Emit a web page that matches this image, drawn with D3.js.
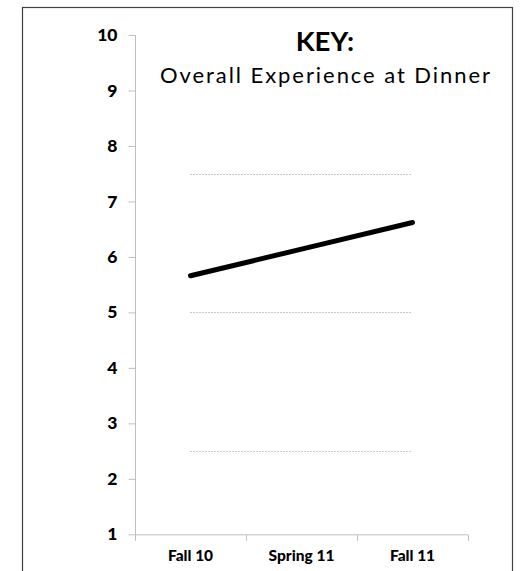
<!DOCTYPE html>
<html><head><meta charset="utf-8">
<script src="https://cdn.jsdelivr.net/npm/d3@7"></script>
<style>html,body{margin:0;padding:0;background:#fff}</style>
</head><body>
<svg id="c" width="522" height="571"></svg>
<script>
const categories = ["Fall 10", "Spring 11", "Fall 11"];
const values = [5.66, 6.14, 6.62];
const yTicks = [1, 2, 3, 4, 5, 6, 7, 8, 9, 10];
const refLevels = [7.5, 5.0, 2.5];
const keyTitle = "KEY:";
const keyLabel = "Overall Experience at Dinner";

const svg = d3.select("#c");
const font = "Lato, 'Open Sans', sans-serif";

// outer border
svg.append("rect").attr("x", 22.5).attr("y", 7.5).attr("width", 490).attr("height", 580)
  .attr("fill", "none").attr("stroke", "#404040").attr("stroke-width", 1.2);

const x = d3.scaleBand().domain(categories).range([135, 468]).padding(0);
const y = d3.scaleLinear().domain([1, 10]).range([534.3, 35]);

// y axis
const yAxis = d3.axisLeft(y).tickValues(yTicks).tickSize(7).tickPadding(11).tickFormat(d3.format("d"));
const gy = svg.append("g").attr("transform", "translate(135.5,0)").call(yAxis);
gy.attr("font-size", null).attr("font-family", null);
gy.select(".domain").attr("stroke", "#bfbfbf").attr("d", `M0,${y(10)}V${y(1)}`);
gy.selectAll(".tick line").attr("stroke", "#bfbfbf");
gy.selectAll(".tick text").style("font-family", font).style("font-weight", "900")
  .style("font-size", "17.5px").attr("fill", "#000");

// x axis
const xAxis = d3.axisBottom(x).tickSize(0).tickPadding(15);
const gx = svg.append("g").attr("transform", `translate(0,${y(1) + 0.5})`).call(xAxis);
gx.attr("font-size", null).attr("font-family", null);
gx.select(".domain").attr("stroke", "#bfbfbf").attr("d", `M135,0H468`);
gx.selectAll(".tick text").style("font-family", font).style("font-weight", "900")
  .style("font-size", "15.5px").attr("fill", "#000");
// x tick marks at category boundaries
const bounds = categories.map(c => x(c)).concat([x(categories[categories.length - 1]) + x.bandwidth()]);
gx.selectAll(".bt").data(bounds).enter().append("line")
  .attr("x1", d => Math.round(d) + 0.5).attr("x2", d => Math.round(d) + 0.5)
  .attr("y1", 0).attr("y2", 6).attr("stroke", "#bfbfbf");

const cx = c => x(c) + x.bandwidth() / 2;

// reference dotted lines
svg.selectAll(".ref").data(refLevels).enter().append("line")
  .attr("x1", cx(categories[0])).attr("x2", cx(categories[categories.length - 1]))
  .attr("y1", d => Math.round(y(d)) + 0.5).attr("y2", d => Math.round(y(d)) + 0.5)
  .attr("stroke", "#909090").attr("stroke-width", 1).attr("stroke-dasharray", "1,2");

// data line
const line = d3.line().x((d, i) => cx(categories[i])).y(d => y(d));
svg.append("path").datum(values).attr("d", line).attr("fill", "none")
  .attr("stroke", "#000").attr("stroke-width", 5).attr("stroke-linecap", "round");

// key
svg.append("text").attr("x", 325).attr("y", 50.5).attr("text-anchor", "middle")
  .style("font-family", font).style("font-weight", "bold").style("font-size", "27.5px").text(keyTitle);
svg.append("text").attr("x", 160).attr("y", 83)
  .style("font-family", font).style("font-size", "22px").attr("textLength", 330)
  .attr("lengthAdjust", "spacing").text(keyLabel);
</script>
</body></html>
